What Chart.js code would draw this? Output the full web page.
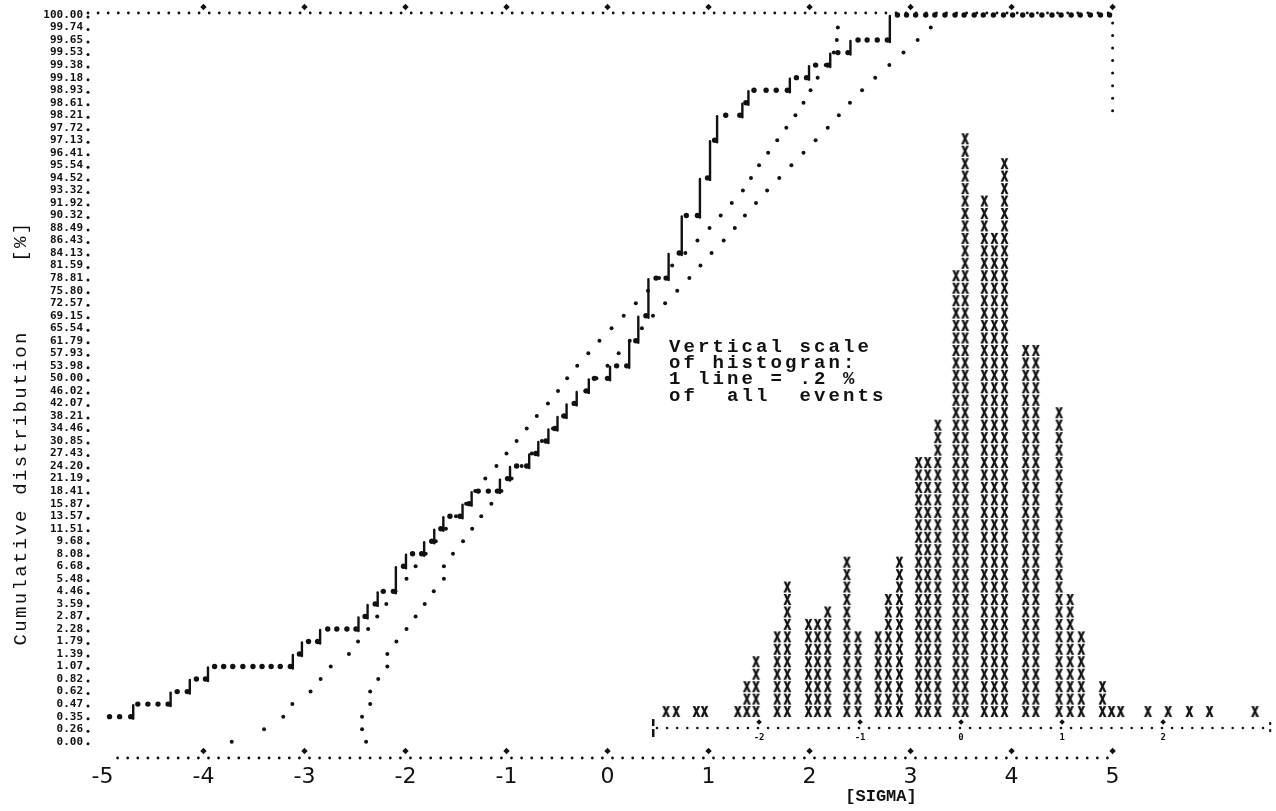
<!DOCTYPE html>
<html>
<head>
<meta charset="utf-8">
<script src="https://cdn.jsdelivr.net/npm/chart.js@4.4.1/dist/chart.umd.min.js"></script>
<style>
  html, body { margin: 0; padding: 0; background: #ffffff; }
  #wrap { width: 1276px; height: 811px; position: relative; }
</style>
</head>
<body>
<div id="wrap"><canvas id="chart" width="1276" height="811"></canvas></div>
<script>
// Cumulative percent printed on each line of the probability scale, top to bottom
const yRowLabels = ['100.00','99.74','99.65','99.53','99.38','99.18','98.93','98.61','98.21','97.72',
  '97.13','96.41','95.54','94.52','93.32','91.92','90.32','88.49','86.43','84.13',
  '81.59','78.81','75.80','72.57','69.15','65.54','61.79','57.93','53.98','50.00',
  '46.02','42.07','38.21','34.46','30.85','27.43','24.20','21.19','18.41','15.87',
  '13.57','11.51','9.68','8.08','6.68','5.48','4.46','3.59','2.87','2.28',
  '1.79','1.39','1.07','0.82','0.62','0.47','0.35','0.26','0.00'];
const xTickValues = [-5, -4, -3, -2, -1, 0, 1, 2, 3, 4, 5];

// Measured cumulative distribution, one printed dot per column
const stepSigma = [-4.93,-4.83,-4.72,-4.65,-4.55,-4.45,-4.35,-4.26,-4.16,-4.07,-3.98,
  -3.89,-3.80,-3.71,-3.61,-3.51,-3.42,-3.33,-3.24,-3.14,-3.05,-2.96,-2.87,
  -2.77,-2.68,-2.58,-2.49,-2.40,-2.30,-2.22,-2.12,-2.02,-1.93,-1.84,-1.74,
  -1.65,-1.56,-1.46,-1.37,-1.28,-1.18,-1.09,-0.99,-0.90,-0.80,-0.71,-0.61,
  -0.52,-0.43,-0.33,-0.21,-0.13,0.00,0.09,0.19,0.28,0.38,0.48,0.58,0.71,
  0.78,0.89,0.99,1.06,1.17,1.31,1.37,1.45,1.57,1.67,1.78,1.87,1.97,2.06,
  2.18,2.28,2.38,2.48,2.57,2.67,2.77,
  2.87,2.96,3.05,3.15,3.24,3.34,3.44,3.53,3.63,3.72,3.82,3.92,4.01,4.11,
  4.20,4.30,4.40,4.49,4.59,4.68,4.78,4.88,4.97];
const stepPercent = [0.35,0.35,0.35,0.47,0.47,0.47,0.47,0.62,0.62,0.82,0.82,
  1.07,1.07,1.07,1.07,1.07,1.07,1.07,1.07,1.07,1.39,1.79,1.79,
  2.28,2.28,2.28,2.28,2.87,3.59,4.46,4.46,6.68,8.08,8.08,9.68,
  11.51,13.57,13.57,15.87,18.41,18.41,18.41,21.19,24.20,24.20,27.43,30.85,
  34.46,38.21,42.07,46.02,50.00,50.00,53.98,53.98,61.79,69.15,78.81,78.81,84.13,
  90.32,90.32,94.52,97.13,98.21,98.21,98.61,98.93,98.93,98.93,98.93,99.18,99.18,99.38,
  99.38,99.53,99.53,99.65,99.65,99.65,99.65,
  100,100,100,100,100,100,100,100,100,100,100,100,100,100,
  100,100,100,100,100,100,100,100,100];

// Fitted cumulative curves, one dot per printed line (bottom to top)
const fitPercent = [0.00,0.26,0.35,0.47,0.62,0.82,1.07,1.39,1.79,2.28,2.87,3.59,4.46,5.48,
  6.68,8.08,9.68,11.51,13.57,15.87,18.41,21.19,24.20,27.43,30.85,34.46,38.21,42.07,
  46.02,50.00,53.98,57.93,61.79,65.54,69.15,72.57,75.80,78.81,81.59,84.13,86.43,
  88.49,90.32,91.92,93.32,94.52,95.54,96.41,97.13,97.72,98.21,98.61,98.93,99.18,
  99.38,99.53,99.65,99.74];
const fitASigma = [-3.72,-3.40,-3.21,-3.12,-2.94,-2.84,-2.74,-2.56,-2.47,-2.37,-2.28,-2.19,-2.10,-1.99,
  -1.90,-1.80,-1.70,-1.60,-1.50,-1.40,-1.31,-1.21,-1.10,-1.00,-0.90,-0.80,-0.70,-0.59,
  -0.49,-0.40,-0.30,-0.19,-0.08,0.04,0.16,0.28,0.40,0.51,0.64,0.77,0.89,
  1.01,1.12,1.23,1.34,1.42,1.50,1.59,1.68,1.77,1.86,1.94,2.01,2.08,
  2.16,2.24,2.27,2.28];
const fitBSigma = [-2.39,-2.43,-2.43,-2.35,-2.35,-2.27,-2.18,-2.18,-2.09,-1.99,-1.90,-1.81,-1.72,-1.62,
  -1.62,-1.53,-1.43,-1.34,-1.25,-1.15,-1.05,-0.95,-0.85,-0.75,-0.65,-0.54,-0.44,-0.33,
  -0.22,-0.11,0.00,0.11,0.22,0.34,0.45,0.57,0.69,0.81,0.92,1.03,1.15,
  1.26,1.36,1.47,1.58,1.70,1.82,1.94,2.06,2.18,2.29,2.40,2.52,2.65,
  2.79,2.93,3.07,3.20];

// Histogram: column position on its own sigma axis and height in printed lines (1 line = .2 %)
const histSigma = [-2.92,-2.82,-2.62,-2.54,-2.21,-2.12,-2.03,-1.82,-1.72,-1.51,-1.42,-1.32,
  -1.13,-1.02,-0.82,-0.72,-0.61,-0.42,-0.33,-0.23,-0.05,0.04,0.23,0.33,0.43,
  0.64,0.74,0.97,1.08,1.19,1.40,1.49,1.58,1.85,2.05,2.26,2.46,2.91];
const histLines = [1,1,1,1,1,3,5,7,11,8,8,9,
  13,7,7,10,13,21,21,24,36,47,42,39,45,
  30,30,25,10,7,3,1,1,1,1,1,1,1];
const histTickValues = [-2, -1, 0, 1, 2];

const INK = '#111111';
const rowOf = p => yRowLabels.indexOf(Number(p).toFixed(2));

// Typewriter "X" used for every histogram cell
function glyph(ch) {
  const c = document.createElement('canvas');
  c.width = 11; c.height = 14;
  const g = c.getContext('2d');
  g.fillStyle = INK;
  g.font = 'bold 12px "Liberation Mono"';
  g.textAlign = 'center';
  g.textBaseline = 'middle';
  g.translate(5.5, 7);
  g.scale(1, 1.4);
  g.fillText(ch, -0.4, 0.5);
  g.fillText(ch, 0.4, 0.5);
  return c;
}
const xGlyph = glyph('X');

const stepPoints = stepSigma.map((s, i) => ({ x: s, y: rowOf(stepPercent[i]) }));
const fitAPoints = fitASigma.map((s, i) => ({ x: s, y: rowOf(fitPercent[i]) }));
const fitBPoints = fitBSigma.map((s, i) => ({ x: s, y: rowOf(fitPercent[i]) }));
const histPoints = [];
histSigma.forEach((s, i) => {
  for (let k = 1; k <= histLines[i]; k++) histPoints.push({ x: s, y: k });
});

function dot(ctx, x, y, r) {
  ctx.beginPath(); ctx.arc(x, y, r, 0, Math.PI * 2); ctx.fill();
}
function diamond(ctx, x, y, r) {
  ctx.beginPath(); ctx.moveTo(x, y - r); ctx.lineTo(x + r, y); ctx.lineTo(x, y + r); ctx.lineTo(x - r, y); ctx.closePath(); ctx.fill();
}

// Printer-style frame: dotted borders, raised diamonds at whole sigma
const printerFrame = {
  id: 'printerFrame',
  beforeDatasetsDraw(chart) {
    const { ctx, chartArea: a, scales } = chart;
    const xs = scales.x, ys = scales.y, xh = scales.xh, yh = scales.yh;
    const pitch = 10.1;
    const topY = a.top - 2;
    ctx.save();
    ctx.fillStyle = INK;
    const right = xs.getPixelForValue(5);
    // top border
    for (let px = a.left; px <= right + 1; px += pitch) dot(ctx, px, topY, 1.4);
    // bottom border
    for (let px = xs.getPixelForValue(-4.85); px <= right + 1; px += pitch) dot(ctx, px, a.bottom, 1.4);
    xTickValues.forEach(v => {
      if (v === -5) return;
      diamond(ctx, xs.getPixelForValue(v), topY - 6, 3.2);
      diamond(ctx, xs.getPixelForValue(v), a.bottom - 7, 3.2);
    });
    // left border: one dot per printed line
    yRowLabels.forEach((l, i) => dot(ctx, a.left, ys.getPixelForValue(i) + 2, 1.5));
    // short right border near the top
    for (let i = 0; i <= 7; i++) dot(ctx, right, ys.getPixelForValue(i) + 8, 1.5);

    // histogram axis
    const hy = yh.getPixelForValue(-0.285);
    const hl = xh.getPixelForValue(-3.05), hr = xh.getPixelForValue(3.05);
    for (let px = hl + 4; px <= hr; px += pitch) dot(ctx, px, hy, 1.3);
    ctx.fillRect(hl - 1, hy - 9, 2.5, 7);
    ctx.fillRect(hl - 1, hy + 1, 2.5, 8);
    ctx.fillRect(hr, hy - 6, 2, 3);
    ctx.fillRect(hr, hy + 1, 2, 3);
    ctx.font = 'bold 9px "DejaVu Sans Mono"';
    ctx.textAlign = 'center';
    ctx.textBaseline = 'middle';
    histTickValues.forEach(v => {
      const px = xh.getPixelForValue(v);
      diamond(ctx, px, hy - 6, 2.8);
      ctx.fillText(v < 0 ? '-' + Math.abs(v) : String(v), px, hy + 10);
    });
    ctx.restore();
  },
  afterDatasetsDraw(chart) {
    const { ctx } = chart;
    // pen strokes joining the steps of the measured distribution
    const pts = chart.getDatasetMeta(0).data;
    ctx.save();
    ctx.strokeStyle = INK;
    ctx.lineWidth = 2.4;
    ctx.lineCap = 'round';
    for (let i = 0; i < pts.length - 1; i++) {
      if (pts[i + 1].y < pts[i].y - 1) {
        ctx.beginPath();
        ctx.moveTo(pts[i].x + 2.5, pts[i].y + 2);
        ctx.lineTo(pts[i].x + 2.5, pts[i + 1].y + 1);
        ctx.stroke();
      }
    }

    ctx.fillStyle = INK;
    ctx.textBaseline = 'middle';
    // y-axis title
    ctx.save();
    ctx.translate(21, 433);
    ctx.rotate(-Math.PI / 2);
    ctx.font = '19px "Liberation Mono"';
    ctx.letterSpacing = '2.3px';
    ctx.textAlign = 'center';
    ctx.fillText('Cumulative distribution     [%]', 0, 0);
    ctx.restore();

    // x-axis title
    ctx.font = 'bold 17px "Liberation Mono"';
    ctx.letterSpacing = '0px';
    ctx.textAlign = 'center';
    ctx.fillText('[SIGMA]', 881, 797);

    // histogram note
    ctx.font = 'bold 19px "Liberation Mono"';
    ctx.letterSpacing = '3.1px';
    ctx.textAlign = 'left';
    const note = ['Vertical scale', 'of histogran:', '1 line = .2 %', 'of  all  events'];
    note.forEach((t, i) => ctx.fillText(t, 669, 347 + i * 16.3));
    ctx.restore();
  }
};

new Chart(document.getElementById('chart'), {
  type: 'scatter',
  data: {
    datasets: [
      { data: stepPoints, xAxisID: 'x', yAxisID: 'y', pointRadius: 2.7,
        pointBackgroundColor: INK, pointBorderWidth: 0, showLine: false, clip: false },
      { data: fitAPoints, xAxisID: 'x', yAxisID: 'y', pointRadius: 2.0,
        pointBackgroundColor: INK, pointBorderWidth: 0, showLine: false, clip: false },
      { data: fitBPoints, xAxisID: 'x', yAxisID: 'y', pointRadius: 2.0,
        pointBackgroundColor: INK, pointBorderWidth: 0, showLine: false, clip: false },
      { data: histPoints, xAxisID: 'xh', yAxisID: 'yh', pointStyle: xGlyph, clip: false }
    ]
  },
  options: {
    responsive: false,
    animation: false,
    events: [],
    layout: { padding: { top: 15, right: 4, left: 0, bottom: 0 } },
    plugins: { legend: { display: false }, tooltip: { enabled: false } },
    scales: {
      x: {
        type: 'linear', min: -5.143, max: 6.568,
        grid: { display: false, drawTicks: false },
        border: { display: false },
        afterBuildTicks: s => { s.ticks = xTickValues.map(v => ({ value: v })); },
        afterFit: s => { s.height = 53; },
        ticks: {
          autoSkip: false, maxRotation: 0, padding: 6, color: INK,
          font: { family: 'DejaVu Sans', size: 22 },
          callback: v => (v < 0 ? '-' + Math.abs(v) : String(v))
        }
      },
      y: {
        type: 'linear', reverse: true, min: 0, max: 59.3,
        grid: { display: false, drawTicks: false },
        border: { display: false },
        afterBuildTicks: s => { s.ticks = yRowLabels.map((l, i) => ({ value: i })); },
        afterFit: s => { s.width = 88; },
        ticks: {
          autoSkip: false, padding: 5, color: INK,
          font: { family: 'DejaVu Sans Mono', size: 11, weight: 'bold' },
          callback: v => yRowLabels[v]
        }
      },
      xh: { type: 'linear', display: false, min: -5.143 - 3.5, max: 6.568 - 3.5 },
      yh: { type: 'linear', display: false, min: -2.69, max: 56.98 }
    }
  },
  plugins: [printerFrame]
});
</script>
</body>
</html>
